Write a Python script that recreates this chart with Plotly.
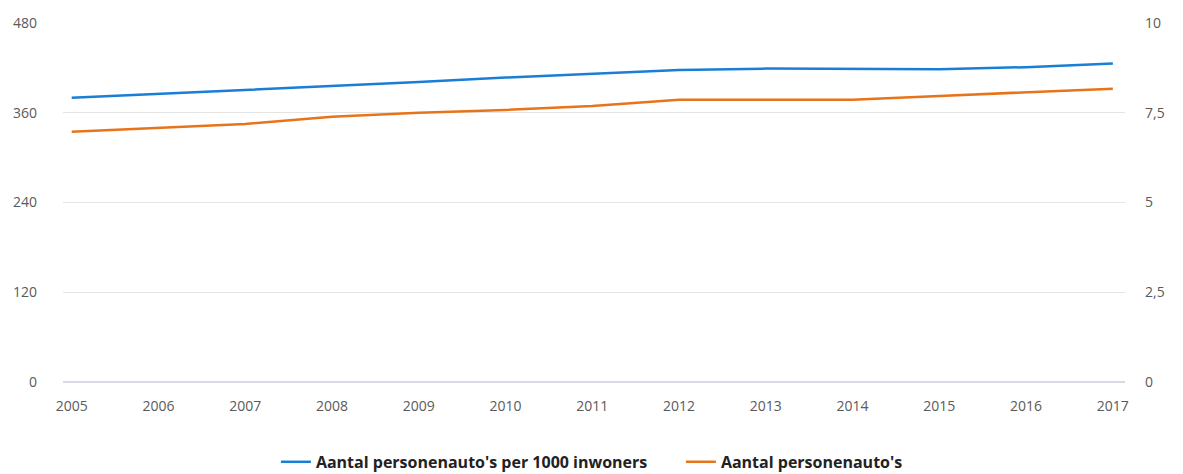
import plotly.graph_objects as go

years = [2005, 2006, 2007, 2008, 2009, 2010, 2011, 2012, 2013, 2014, 2015, 2016, 2017]
per_1000 = [380, 385, 391, 396, 401, 407, 412, 417, 419, 418, 418, 421, 426]
totaal_mln = [6.97, 7.08, 7.19, 7.39, 7.50, 7.58, 7.69, 7.86, 7.86, 7.86, 7.97, 8.08, 8.17]

left_ticks = [0, 120, 240, 360, 480]
right_ticks = [0, 2.5, 5, 7.5, 10]
right_labels = ["0", "2,5", "5", "7,5", "10"]

fig = go.Figure()
fig.add_trace(go.Scatter(x=years, y=per_1000, mode="lines", name="Aantal personenauto's per 1000 inwoners",
                         line=dict(color="#1a7fd4", width=2.5)))
fig.add_trace(go.Scatter(x=years, y=totaal_mln, mode="lines", name="Aantal personenauto's",
                         line=dict(color="#e8741a", width=2.5), yaxis="y2"))

tickfont = dict(family="Open Sans, sans-serif", size=14, color="#5a5a5a")
fig.update_layout(
    width=1175, height=466,
    margin=dict(l=55, r=58, t=15, b=92, autoexpand=False),
    plot_bgcolor="white", paper_bgcolor="white",
    xaxis=dict(range=[2004.9, 2017.14], tickvals=years, ticktext=[str(y) for y in years],
               showgrid=False, showline=False, zeroline=False, tickfont=tickfont, ticks="",
               ticklabelstandoff=14, fixedrange=True, automargin=False),
    yaxis=dict(range=[0, 480], tickvals=left_ticks, showgrid=True, gridcolor="#e4e4e4", gridwidth=1,
               zeroline=True, zerolinecolor="#d6d9e8", zerolinewidth=2, showline=False,
               tickfont=tickfont, ticklabelstandoff=25, automargin=False),
    yaxis2=dict(range=[0, 10], tickvals=right_ticks, ticktext=right_labels, overlaying="y", side="right",
                showgrid=False, zeroline=False, showline=False, tickfont=tickfont, ticklabelstandoff=19,
                automargin=False),
    legend=dict(orientation="h", xref="container", x=0.228, xanchor="left", yref="container", y=0.026,
                yanchor="middle",
                font=dict(family="Open Sans, sans-serif", size=16, color="#222222", weight="bold"),
                itemwidth=30, entrywidth=360, traceorder="normal"),
    showlegend=True,
)

fig.write_html("out.html")
